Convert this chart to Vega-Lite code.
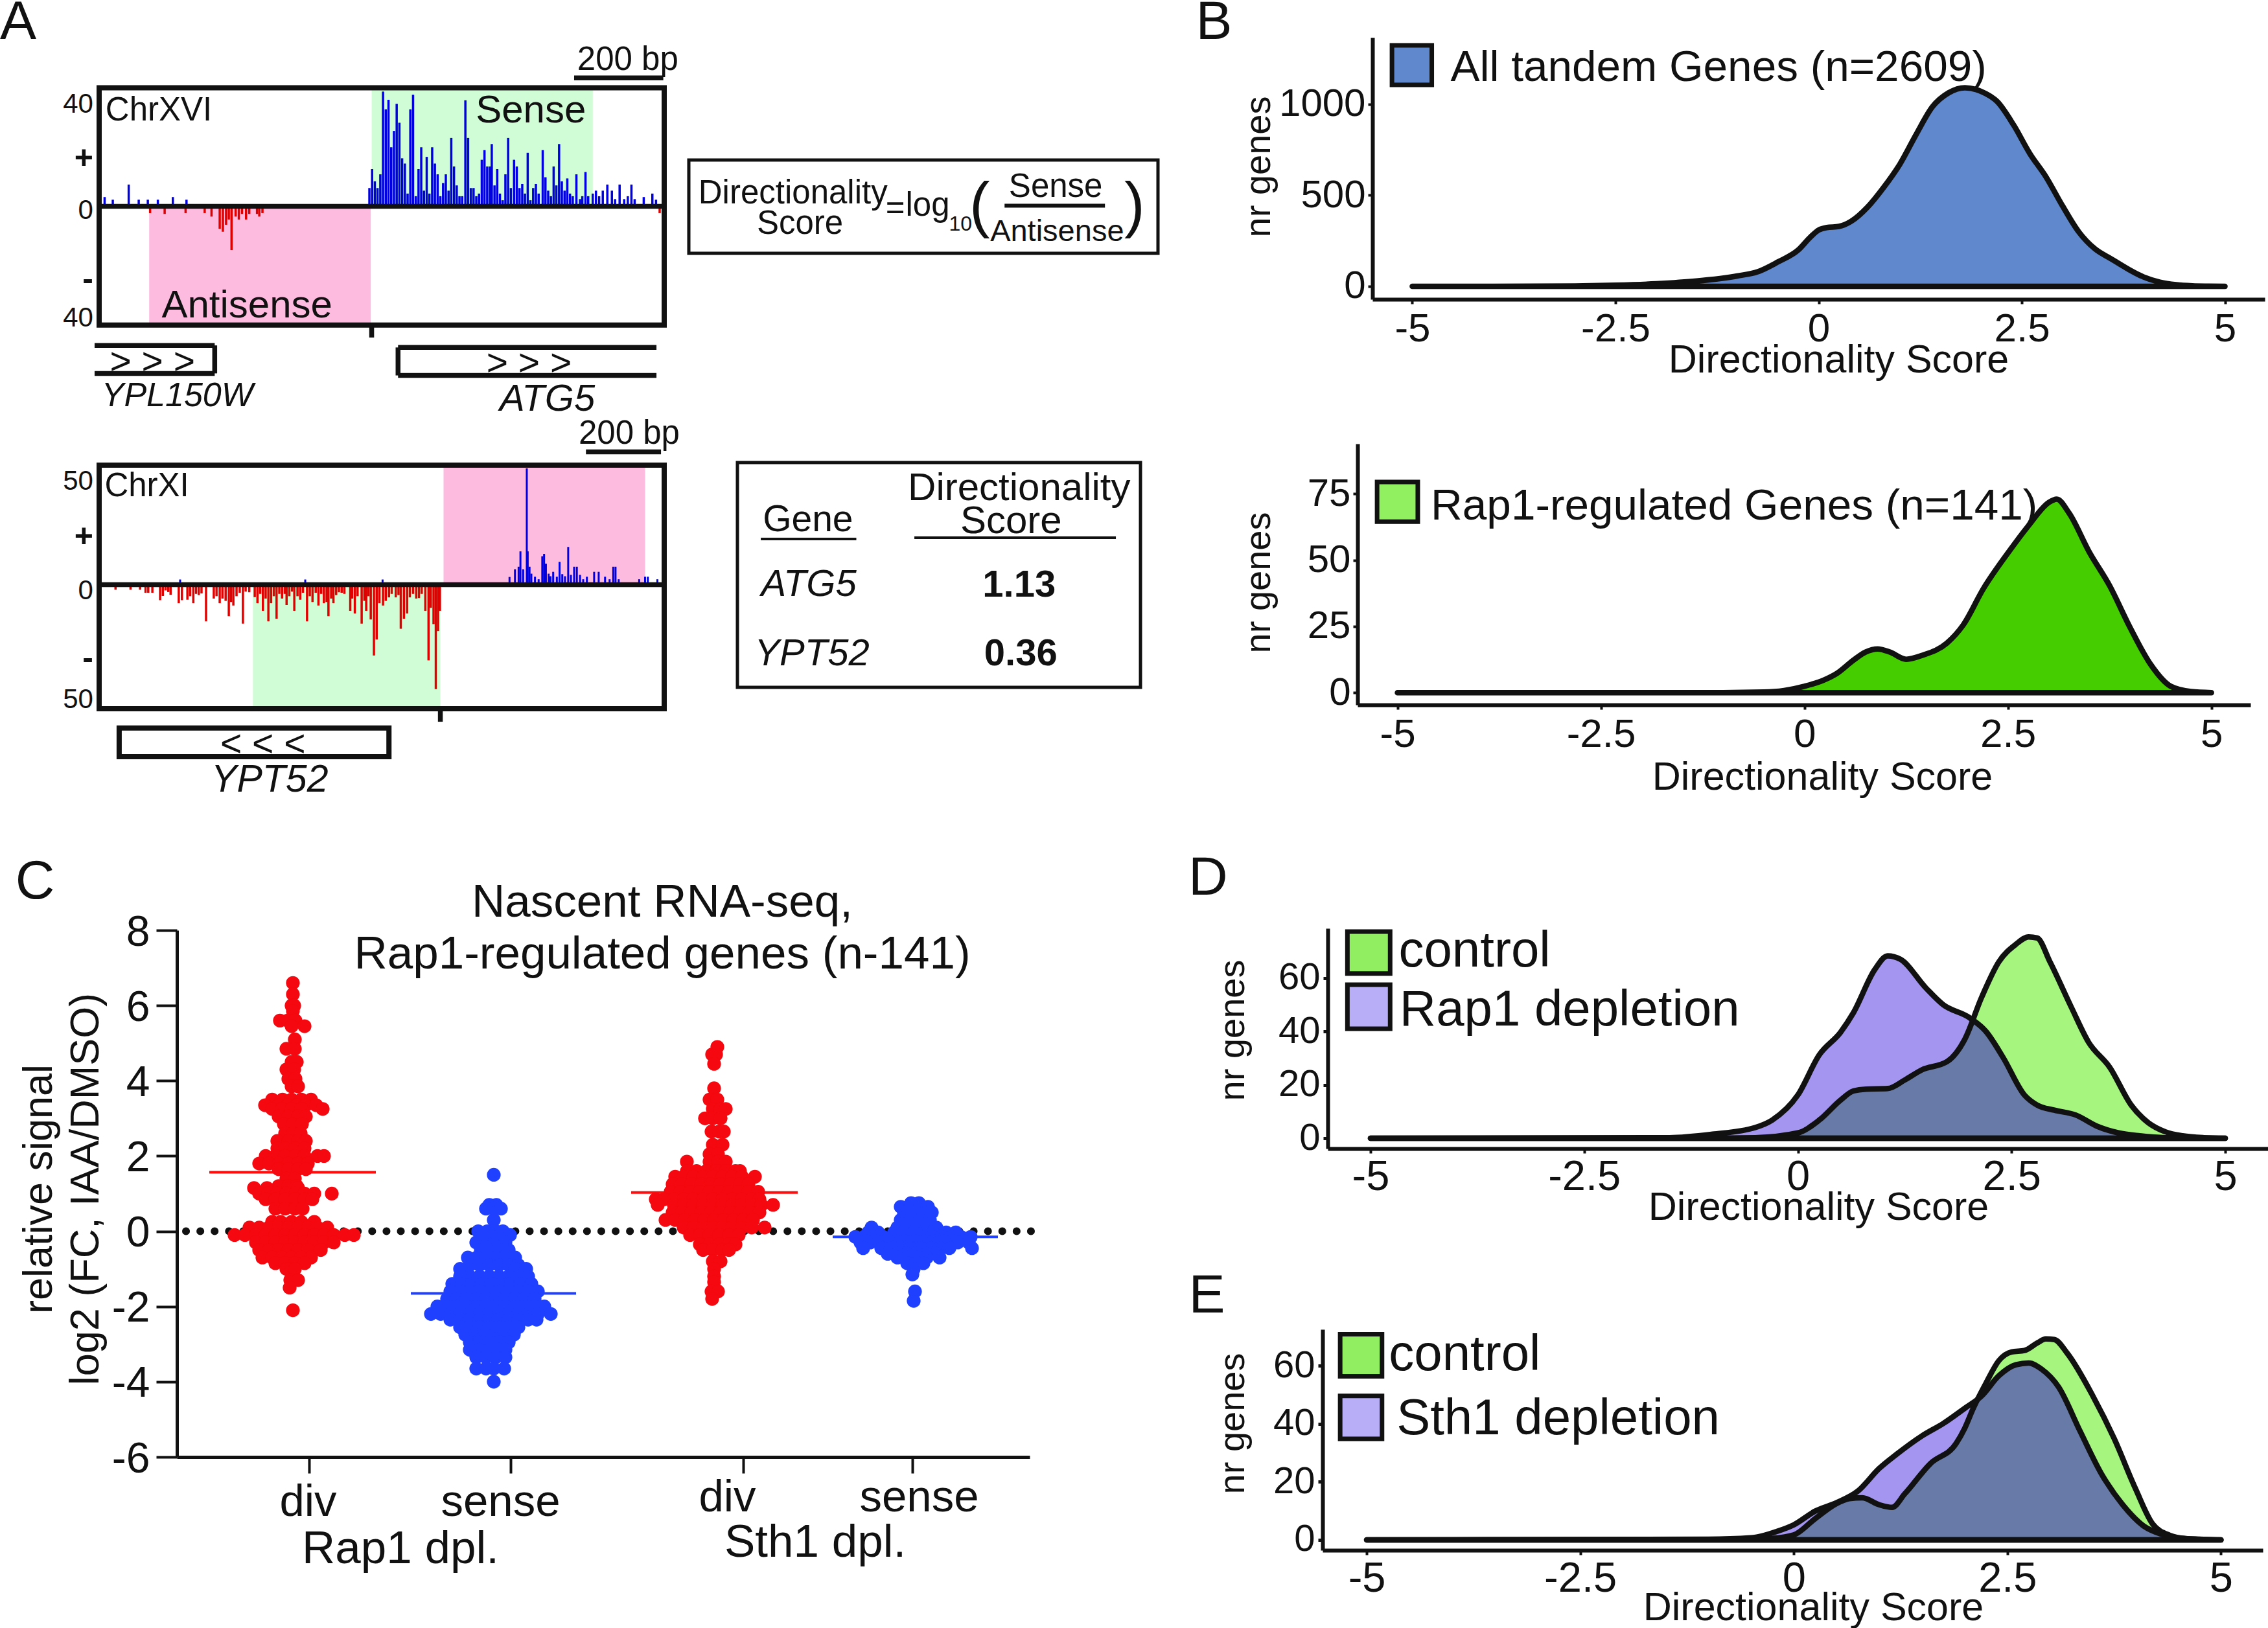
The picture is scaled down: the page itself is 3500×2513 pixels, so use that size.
{"$schema":"https://vega.github.io/schema/vega-lite/v6.json","width":3500,"height":2513,"autosize":{"type":"none"},"padding":0,"background":"white",
"config":{"view":{"stroke":null},"text":{"font":"Liberation Sans","color":"#111","baseline":"middle","dy":3},"axis":{"grid":false,"domainColor":"#111","tickColor":"#111","labelColor":"#111","titleColor":"#111","labelFont":"Liberation Sans","titleFont":"Liberation Sans","titleFontWeight":"normal","labelOverlap":false,"labelBound":false,"labelFlush":false,"labelLimit":0,"titleLimit":0,"titleAlign":"center","titleBaseline":"middle"}},
"resolve":{"scale":{"x":"independent","y":"independent"}},
"layer":[
{"encoding":{"x":{"field":"x","type":"quantitative","scale":{"domain":[0,1242],"range":[153,1025],"nice":false,"zero":false},"axis":null},"y":{"field":"y","type":"quantitative","scale":{"domain":[-40.7,40.7],"range":[501.7,135.5],"nice":false,"zero":false},"axis":null}},
"layer":[
{"data":{"values":[{"x":599,"x2":1085,"y":0,"y2":40.7}]},"mark":{"type":"rect","fill":"#d0fdd5"},"encoding":{"x2":{"field":"x2"},"y2":{"field":"y2"}}},
{"data":{"values":[{"x":110,"x2":597,"y":-40.7,"y2":0}]},"mark":{"type":"rect","fill":"#febbe0"},"encoding":{"x2":{"field":"x2"},"y2":{"field":"y2"}}},
{"data":{"values":[{"x":12,"y":3.2},{"x":30,"y":2.3},{"x":65,"y":7.5},{"x":87,"y":2.3},{"x":107,"y":2.3},{"x":129,"y":2.3},{"x":162,"y":3.2},{"x":192,"y":2.3},{"x":594,"y":6.3},{"x":600,"y":12.8},{"x":606,"y":8.6},{"x":612,"y":6.3},{"x":618,"y":11},{"x":624,"y":39.4},{"x":630,"y":33.3},{"x":636,"y":36.6},{"x":642,"y":20.3},{"x":648,"y":25.9},{"x":654,"y":35.2},{"x":660,"y":28.7},{"x":666,"y":16.5},{"x":672,"y":14.7},{"x":678,"y":4.4},{"x":684,"y":33.3},{"x":690,"y":38.3},{"x":696,"y":3.5},{"x":702,"y":12.8},{"x":708,"y":20.3},{"x":714,"y":5.4},{"x":720,"y":17},{"x":726,"y":4.4},{"x":732,"y":20.3},{"x":738,"y":14.7},{"x":744,"y":11},{"x":750,"y":3.5},{"x":756,"y":8},{"x":762,"y":11},{"x":768,"y":5.4},{"x":774,"y":23.5},{"x":780,"y":13.7},{"x":786,"y":7.2},{"x":792,"y":3.5},{"x":798,"y":3.5},{"x":805,"y":36.4},{"x":811,"y":23.5},{"x":817,"y":6.3},{"x":823,"y":6.3},{"x":829,"y":3.5},{"x":835,"y":4.4},{"x":841,"y":16},{"x":847,"y":19.3},{"x":853,"y":13.7},{"x":859,"y":13.7},{"x":863,"y":21.4},{"x":869,"y":7.2},{"x":875,"y":12.8},{"x":881,"y":4.4},{"x":887,"y":2.1},{"x":893,"y":11},{"x":899,"y":23.5},{"x":905,"y":6.3},{"x":912,"y":16},{"x":918,"y":13.7},{"x":924,"y":6.3},{"x":930,"y":7.7},{"x":936,"y":4.4},{"x":942,"y":18.4},{"x":948,"y":2.1},{"x":954,"y":6.3},{"x":960,"y":7.7},{"x":966,"y":4.4},{"x":975,"y":19.3},{"x":981,"y":10},{"x":987,"y":5.4},{"x":993,"y":3.5},{"x":999,"y":13.7},{"x":1005,"y":7.2},{"x":1011,"y":21.4},{"x":1017,"y":8.6},{"x":1023,"y":5.4},{"x":1029,"y":9.6},{"x":1035,"y":4.4},{"x":1041,"y":3.5},{"x":1049,"y":11},{"x":1057,"y":2.5},{"x":1062,"y":3.5},{"x":1069,"y":11.8},{"x":1075,"y":3.5},{"x":1085,"y":4.4},{"x":1092,"y":5.4},{"x":1099,"y":3.5},{"x":1107,"y":5.4},{"x":1117,"y":7.5},{"x":1127,"y":5.4},{"x":1134,"y":2.5},{"x":1144,"y":7.5},{"x":1154,"y":2.5},{"x":1162,"y":3.5},{"x":1170,"y":7.5},{"x":1177,"y":2.5},{"x":1197,"y":3.2},{"x":1216,"y":4.4},{"x":1224,"y":2.3}]},"mark":{"type":"rule","color":"#0000e0","strokeWidth":3.5},"encoding":{"y2":{"datum":0}}},
{"data":{"values":[{"x":112,"y":-2.3},{"x":144,"y":-2.6},{"x":190,"y":-2.3},{"x":232,"y":-2.3},{"x":247,"y":-3.5},{"x":265,"y":-7.7},{"x":272,"y":-8.7},{"x":279,"y":-6.3},{"x":285,"y":-4.5},{"x":291,"y":-15},{"x":300,"y":-3.5},{"x":307,"y":-4.5},{"x":314,"y":-2.6},{"x":323,"y":-4.5},{"x":330,"y":-2.6},{"x":347,"y":-2.6},{"x":352,"y":-3.5},{"x":359,"y":-2.3},{"x":1232,"y":-2.3}]},"mark":{"type":"rule","color":"#e00000","strokeWidth":3.5},"encoding":{"y2":{"datum":0}}},
{"data":{"values":[{"x":0,"x2":1242,"y":0,"y2":0},{"x":599,"x2":599,"y":-40.7,"y2":-45},{"x":1044,"x2":1240,"y":44.1,"y2":44.1},{"x":-10,"x2":254,"y":-47.7,"y2":-47.7},{"x":-10,"x2":254,"y":-57.3,"y2":-57.3},{"x":254,"x2":254,"y":-47.7,"y2":-57.3},{"x":657,"x2":1225,"y":-48.4,"y2":-48.4},{"x":657,"x2":1225,"y":-58,"y2":-58},{"x":657,"x2":657,"y":-48.4,"y2":-58}]},"mark":{"type":"rule","color":"#111","strokeWidth":7.5},"encoding":{"x2":{"field":"x2"},"y2":{"field":"y2"}}},
{"data":{"values":[{"x":0,"x2":1242,"y":-40.7,"y2":40.7}]},"mark":{"type":"rect","fill":"transparent","stroke":"#111","strokeWidth":8},"encoding":{"x2":{"field":"x2"},"y2":{"field":"y2"}}},
{"data":{"values":[{"t":"40","x":-13,"y":35.7},{"t":"0","x":-13,"y":-0.7},{"t":"40","x":-13,"y":-37.7}]},"mark":{"type":"text","fontSize":42,"align":"right"},"encoding":{"text":{"field":"t","type":"nominal"}}},
{"data":{"values":[{"t":"+","x":-13,"y":17},{"t":"-","x":-13,"y":-24.6}]},"mark":{"type":"text","fontSize":50,"fontWeight":"bold","align":"right"},"encoding":{"text":{"field":"t","type":"nominal"}}},
{"data":{"values":[{"t":"ChrXVI","x":14,"y":33.5}]},"mark":{"type":"text","fontSize":51,"align":"left"},"encoding":{"text":{"field":"t","type":"nominal"}}},
{"data":{"values":[{"t":"200 bp","x":1162,"y":50.8}]},"mark":{"type":"text","fontSize":51},"encoding":{"text":{"field":"t","type":"nominal"}}},
{"data":{"values":[{"t":"Sense","x":949,"y":33.4},{"t":"Antisense","x":325,"y":-33.5}]},"mark":{"type":"text","fontSize":60},"encoding":{"text":{"field":"t","type":"nominal"}}},
{"data":{"values":[{"t":"> > >","x":117,"y":-53},{"t":"> > >","x":945,"y":-53.4}]},"mark":{"type":"text","fontSize":57},"encoding":{"text":{"field":"t","type":"nominal"}}},
{"data":{"values":[{"t":"YPL150W","x":172,"y":-64.3}]},"mark":{"type":"text","fontSize":52,"fontStyle":"italic"},"encoding":{"text":{"field":"t","type":"nominal"}}},
{"data":{"values":[{"t":"ATG5","x":985,"y":-65.7}]},"mark":{"type":"text","fontSize":58,"fontStyle":"italic"},"encoding":{"text":{"field":"t","type":"nominal"}}},
{"data":{"values":[{"t":"A","x":-178,"y":63.7}]},"mark":{"type":"text","fontSize":84},"encoding":{"text":{"field":"t","type":"nominal"}}}
]},
{"encoding":{"x":{"field":"x","type":"quantitative","scale":{"domain":[0,1242],"range":[153,1025],"nice":false,"zero":false},"axis":null},"y":{"field":"y","type":"quantitative","scale":{"domain":[-53.4,51.4],"range":[1094,718],"nice":false,"zero":false},"axis":null}},
"layer":[
{"data":{"values":[{"x":338,"x2":750,"y":-53.4,"y2":0}]},"mark":{"type":"rect","fill":"#d0fdd5"},"encoding":{"x2":{"field":"x2"},"y2":{"field":"y2"}}},
{"data":{"values":[{"x":757,"x2":1200,"y":0,"y2":51.4}]},"mark":{"type":"rect","fill":"#febbe0"},"encoding":{"x2":{"field":"x2"},"y2":{"field":"y2"}}},
{"data":{"values":[{"x":178,"y":2.2},{"x":453,"y":2.2},{"x":623,"y":2.2},{"x":902,"y":3.3},{"x":914,"y":6.6},{"x":922,"y":7.7},{"x":926,"y":14.3},{"x":932,"y":6.6},{"x":940,"y":50},{"x":942,"y":14.3},{"x":946,"y":7.7},{"x":950,"y":4.7},{"x":958,"y":3.4},{"x":966,"y":2.3},{"x":974,"y":12.2},{"x":978,"y":13.2},{"x":982,"y":9},{"x":988,"y":4.7},{"x":992,"y":3.6},{"x":998,"y":5.5},{"x":1006,"y":3.4},{"x":1012,"y":9.8},{"x":1018,"y":4.5},{"x":1024,"y":3.6},{"x":1031,"y":16.2},{"x":1037,"y":4.2},{"x":1044,"y":7.7},{"x":1050,"y":7.7},{"x":1057,"y":4.2},{"x":1064,"y":2.3},{"x":1072,"y":3.4},{"x":1088,"y":5.5},{"x":1098,"y":5.5},{"x":1112,"y":3.4},{"x":1122,"y":2.3},{"x":1130,"y":7.7},{"x":1135,"y":7.7},{"x":1142,"y":2.3},{"x":1187,"y":2.3},{"x":1200,"y":3.4},{"x":1206,"y":3.4},{"x":1227,"y":2.3}]},"mark":{"type":"rule","color":"#0000e0","strokeWidth":3},"encoding":{"y2":{"datum":0}}},
{"data":{"values":[{"x":36,"y":-2.2},{"x":69,"y":-2.2},{"x":90,"y":-2.2},{"x":102,"y":-3.5},{"x":108,"y":-3.5},{"x":117,"y":-3.5},{"x":134,"y":-6.7},{"x":140,"y":-4.9},{"x":146,"y":-2.5},{"x":152,"y":-3.2},{"x":157,"y":-4.4},{"x":175,"y":-8},{"x":182,"y":-6.7},{"x":194,"y":-6.5},{"x":200,"y":-5},{"x":207,"y":-8},{"x":213,"y":-4},{"x":219,"y":-4.5},{"x":225,"y":-3.8},{"x":235,"y":-15.8},{"x":252,"y":-6},{"x":258,"y":-5},{"x":265,"y":-8},{"x":271,"y":-6},{"x":278,"y":-7},{"x":285,"y":-13.6},{"x":290,"y":-7.5},{"x":295,"y":-9},{"x":302,"y":-5},{"x":309,"y":-3.5},{"x":316,"y":-16.8},{"x":322,"y":-3},{"x":330,"y":-3.3},{"x":342,"y":-5.4},{"x":348,"y":-8},{"x":354,"y":-4},{"x":360,"y":-11.3},{"x":366,"y":-6},{"x":372,"y":-15.8},{"x":378,"y":-8},{"x":384,"y":-5},{"x":390,"y":-14.7},{"x":396,"y":-4},{"x":402,"y":-6},{"x":408,"y":-4},{"x":412,"y":-8.8},{"x":418,"y":-5},{"x":424,"y":-3},{"x":429,"y":-11.3},{"x":436,"y":-5},{"x":442,"y":-6.5},{"x":448,"y":-3.5},{"x":457,"y":-15.8},{"x":463,"y":-5},{"x":469,"y":-7.5},{"x":476,"y":-3.5},{"x":482,"y":-9},{"x":488,"y":-4},{"x":494,"y":-8},{"x":500,"y":-7.5},{"x":504,"y":-13.6},{"x":510,"y":-6},{"x":515,"y":-8},{"x":521,"y":-4.5},{"x":527,"y":-3.3},{"x":533,"y":-3.5},{"x":539,"y":-4},{"x":552,"y":-11.3},{"x":556,"y":-6},{"x":562,"y":-12.4},{"x":568,"y":-5},{"x":577,"y":-16.8},{"x":583,"y":-7},{"x":587,"y":-11.3},{"x":592,"y":-5},{"x":597,"y":-15},{"x":604,"y":-30.5},{"x":610,"y":-23.6},{"x":616,"y":-8},{"x":624,"y":-9},{"x":630,"y":-7},{"x":637,"y":-5.5},{"x":643,"y":-4},{"x":652,"y":-5.5},{"x":658,"y":-4.5},{"x":663,"y":-19},{"x":670,"y":-14.7},{"x":677,"y":-12.4},{"x":683,"y":-5.5},{"x":690,"y":-4},{"x":697,"y":-6},{"x":703,"y":-5.8},{"x":709,"y":-4},{"x":717,"y":-11.3},{"x":724,"y":-32.6},{"x":729,"y":-10},{"x":735,"y":-17},{"x":740,"y":-45},{"x":745,"y":-20},{"x":749,"y":-11.3}]},"mark":{"type":"rule","color":"#e00000","strokeWidth":3.5},"encoding":{"y2":{"datum":0}}},
{"data":{"values":[{"x":0,"x2":1242,"y":0,"y2":0},{"x":750,"x2":750,"y":-53.4,"y2":-59},{"x":1070,"x2":1235,"y":57.1,"y2":57.1}]},"mark":{"type":"rule","color":"#111","strokeWidth":7.5},"encoding":{"x2":{"field":"x2"},"y2":{"field":"y2"}}},
{"data":{"values":[{"x":0,"x2":1242,"y":-53.4,"y2":51.4},{"x":44,"x2":637,"y":-74,"y2":-61.7}]},"mark":{"type":"rect","fill":"transparent","stroke":"#111","strokeWidth":8},"encoding":{"x2":{"field":"x2"},"y2":{"field":"y2"}}},
{"data":{"values":[{"t":"50","x":-13,"y":45.4},{"t":"0","x":-13,"y":-1.7},{"t":"50","x":-13,"y":-48.6}]},"mark":{"type":"text","fontSize":42,"align":"right"},"encoding":{"text":{"field":"t","type":"nominal"}}},
{"data":{"values":[{"t":"+","x":-13,"y":21.2},{"t":"-","x":-13,"y":-31}]},"mark":{"type":"text","fontSize":50,"fontWeight":"bold","align":"right"},"encoding":{"text":{"field":"t","type":"nominal"}}},
{"data":{"values":[{"t":"ChrXI","x":12,"y":42.9}]},"mark":{"type":"text","fontSize":51,"align":"left"},"encoding":{"text":{"field":"t","type":"nominal"}}},
{"data":{"values":[{"t":"200 bp","x":1165,"y":65.6}]},"mark":{"type":"text","fontSize":51},"encoding":{"text":{"field":"t","type":"nominal"}}},
{"data":{"values":[{"t":"< < <","x":360,"y":-68.3}]},"mark":{"type":"text","fontSize":57},"encoding":{"text":{"field":"t","type":"nominal"}}},
{"data":{"values":[{"t":"YPT52","x":375,"y":-83.3}]},"mark":{"type":"text","fontSize":59,"fontStyle":"italic"},"encoding":{"text":{"field":"t","type":"nominal"}}}
]},
{"encoding":{"x":{"field":"x","type":"quantitative","scale":{"domain":[0,100],"range":[1063,1787],"nice":false,"zero":false},"axis":null},"y":{"field":"y","type":"quantitative","scale":{"domain":[0,100],"range":[391,247],"nice":false,"zero":false},"axis":null}},
"layer":[
{"data":{"values":[{"x":0,"x2":100,"y":0,"y2":100}]},"mark":{"type":"rect","fill":"transparent","stroke":"#111","strokeWidth":5},"encoding":{"x2":{"field":"x2"},"y2":{"field":"y2"}}},
{"data":{"values":[{"x":67.3,"x2":88.7,"y":51}]},"mark":{"type":"rule","color":"#111","strokeWidth":6},"encoding":{"x2":{"field":"x2"}}},
{"data":{"values":[{"t":"Directionality","x":22.2,"y":65.7},{"t":"Score","x":23.7,"y":33},{"t":"=","x":44,"y":49},{"t":"log","x":50.9,"y":53},{"t":"Sense","x":78.2,"y":73}]},"mark":{"type":"text","fontSize":51},"encoding":{"text":{"field":"t","type":"nominal"}}},
{"data":{"values":[{"t":"Antisense","x":78.5,"y":25}]},"mark":{"type":"text","fontSize":47},"encoding":{"text":{"field":"t","type":"nominal"}}},
{"data":{"values":[{"t":"10","x":57.9,"y":33}]},"mark":{"type":"text","fontSize":32},"encoding":{"text":{"field":"t","type":"nominal"}}},
{"data":{"values":[{"t":"(","x":62,"y":52},{"t":")","x":95,"y":52}]},"mark":{"type":"text","fontSize":95},"encoding":{"text":{"field":"t","type":"nominal"}}}
]},
{"encoding":{"x":{"field":"x","type":"quantitative","scale":{"domain":[0,100],"range":[1138,1760],"nice":false,"zero":false},"axis":null},"y":{"field":"y","type":"quantitative","scale":{"domain":[0,100],"range":[1061,714],"nice":false,"zero":false},"axis":null}},
"layer":[
{"data":{"values":[{"x":0,"x2":100,"y":0,"y2":100}]},"mark":{"type":"rect","fill":"transparent","stroke":"#111","strokeWidth":5},"encoding":{"x2":{"field":"x2"},"y2":{"field":"y2"}}},
{"data":{"values":[{"x":5.8,"x2":29.5,"y":66},{"x":43.9,"x2":93.9,"y":66.6}]},"mark":{"type":"rule","color":"#111","strokeWidth":4},"encoding":{"x2":{"field":"x2"}}},
{"data":{"values":[{"t":"Gene","x":17.5,"y":75.2}]},"mark":{"type":"text","fontSize":57},"encoding":{"text":{"field":"t","type":"nominal"}}},
{"data":{"values":[{"t":"Directionality","x":69.9,"y":89.3},{"t":"Score","x":67.9,"y":74.7}]},"mark":{"type":"text","fontSize":60},"encoding":{"text":{"field":"t","type":"nominal"}}},
{"data":{"values":[{"t":"ATG5","x":17.7,"y":46.3},{"t":"YPT52","x":18.5,"y":15.7}]},"mark":{"type":"text","fontSize":58,"fontStyle":"italic"},"encoding":{"text":{"field":"t","type":"nominal"}}},
{"data":{"values":[{"t":"1.13","x":69.9,"y":46},{"t":"0.36","x":70.3,"y":15.7}]},"mark":{"type":"text","fontSize":58,"fontWeight":"bold"},"encoding":{"text":{"field":"t","type":"nominal"}}}
]},
{"encoding":{"x":{"field":"x","type":"quantitative","scale":{"domain":[-5.49,5.49],"range":[2118,3495],"nice":false,"zero":false},"axis":{"orient":"bottom","offset":-2051,"values":[-5,-2.5,0,2.5,5],"labelExpr":"''+datum.value","domainWidth":6,"tickWidth":4,"tickSize":7,"labelFontSize":62,"labelPadding":8,"title":"Directionality Score","titleFontSize":61,"titleX":2837,"titleY":94}},"y":{"field":"y","type":"quantitative","scale":{"domain":[-71.2,1366.5],"range":[462,58],"nice":false,"zero":false},"axis":{"orient":"left","offset":-2118,"values":[0,500,1000],"labelExpr":"''+datum.value","domainWidth":6,"tickWidth":4,"tickSize":7,"labelFontSize":60,"labelPadding":4,"title":"nr genes","titleFontSize":56,"titleX":-176,"titleY":257}}},
"layer":[
{"data":{"values":[{"x":-5,"y":0},{"x":-4,"y":0},{"x":-3,"y":2},{"x":-2.5,"y":6},{"x":-2,"y":14},{"x":-1.5,"y":29},{"x":-1,"y":57},{"x":-0.75,"y":80},{"x":-0.5,"y":134},{"x":-0.25,"y":200},{"x":-0.1,"y":271},{"x":0,"y":309},{"x":0.1,"y":323},{"x":0.25,"y":329},{"x":0.4,"y":357},{"x":0.6,"y":434},{"x":0.8,"y":543},{"x":1,"y":671},{"x":1.2,"y":834},{"x":1.4,"y":986},{"x":1.6,"y":1063},{"x":1.8,"y":1091},{"x":2,"y":1071},{"x":2.2,"y":1014},{"x":2.4,"y":886},{"x":2.6,"y":729},{"x":2.8,"y":600},{"x":3,"y":443},{"x":3.2,"y":300},{"x":3.4,"y":206},{"x":3.6,"y":151},{"x":3.8,"y":97},{"x":4,"y":51},{"x":4.2,"y":23},{"x":4.4,"y":9},{"x":4.6,"y":3},{"x":4.8,"y":1},{"x":5,"y":0}]},"mark":{"type":"area","interpolate":"monotone","fill":"#6088cc","stroke":"#111","strokeWidth":8.5,"strokeJoin":"round","strokeCap":"round"}},
{"data":{"values":[{"x":-5.25,"x2":-4.76,"y":1107,"y2":1324}]},"mark":{"type":"rect","fill":"#6088cc","stroke":"#111","strokeWidth":7},"encoding":{"x2":{"field":"x2"},"y2":{"field":"y2"}}},
{"data":{"values":[{"t":"All tandem Genes (n=2609)","x":-4.53,"y":1210}]},"mark":{"type":"text","fontSize":67.5,"align":"left"},"encoding":{"text":{"field":"t","type":"nominal"}}},
{"data":{"values":[{"t":"B","x":-7.44,"y":1459}]},"mark":{"type":"text","fontSize":84},"encoding":{"text":{"field":"t","type":"nominal"}}}
]},
{"encoding":{"x":{"field":"x","type":"quantitative","scale":{"domain":[-5.49,5.48],"range":[2095,3473],"nice":false,"zero":false},"axis":{"orient":"bottom","offset":-1425,"values":[-5,-2.5,0,2.5,5],"labelExpr":"''+datum.value","domainWidth":6,"tickWidth":4,"tickSize":7,"labelFontSize":62,"labelPadding":8,"title":"Directionality Score","titleFontSize":61,"titleX":2812,"titleY":112}},"y":{"field":"y","type":"quantitative","scale":{"domain":[-4.6,93.9],"range":[1088,685],"nice":false,"zero":false},"axis":{"orient":"left","offset":-2095,"values":[0,25,50,75],"labelExpr":"''+datum.value","domainWidth":6,"tickWidth":4,"tickSize":7,"labelFontSize":60,"labelPadding":4,"title":"nr genes","titleFontSize":56,"titleX":-153,"titleY":899}}},
"layer":[
{"data":{"values":[{"x":-5,"y":0},{"x":-1,"y":0},{"x":-0.5,"y":0.2},{"x":-0.25,"y":0.8},{"x":0,"y":2.4},{"x":0.25,"y":4.9},{"x":0.4,"y":7.3},{"x":0.6,"y":12.2},{"x":0.75,"y":15.3},{"x":0.9,"y":16.5},{"x":1.05,"y":15.3},{"x":1.25,"y":12.6},{"x":1.45,"y":14.1},{"x":1.75,"y":18.7},{"x":1.95,"y":25.5},{"x":2.2,"y":39.3},{"x":2.5,"y":52.7},{"x":2.75,"y":62.9},{"x":3,"y":71.7},{"x":3.1,"y":73},{"x":3.25,"y":67.8},{"x":3.5,"y":53},{"x":3.75,"y":40.3},{"x":4,"y":24.6},{"x":4.25,"y":10.8},{"x":4.5,"y":2.4},{"x":4.75,"y":0.4},{"x":5,"y":0}]},"mark":{"type":"area","interpolate":"monotone","fill":"#46cd00","stroke":"#111","strokeWidth":8.5,"strokeJoin":"round","strokeCap":"round"}},
{"data":{"values":[{"x":-5.25,"x2":-4.75,"y":64.5,"y2":79.5}]},"mark":{"type":"rect","fill":"#90f060","stroke":"#111","strokeWidth":7},"encoding":{"x2":{"field":"x2"},"y2":{"field":"y2"}}},
{"data":{"values":[{"t":"Rap1-regulated Genes (n=141)","x":-4.59,"y":71}]},"mark":{"type":"text","fontSize":67.5,"align":"left"},"encoding":{"text":{"field":"t","type":"nominal"}}}
]},
{"encoding":{"x":{"field":"x","type":"quantitative","scale":{"domain":[2.73,15.89],"range":[273,1589],"nice":false,"zero":false},"axis":{"orient":"bottom","offset":-264,"values":[4.77,7.88,11.47,14.08],"labelExpr":"datum.value<5||(datum.value>11&&datum.value<12)?'div':'sense'","domainWidth":5,"tickWidth":4,"tickSize":25,"labelFontSize":69,"labelPadding":{"condition":{"test":"datum.value<9","value":10},"value":3},"labelOffset":{"condition":[{"test":"datum.value<5","value":-2},{"test":"datum.value<9","value":-16},{"test":"datum.value<12","value":-25}],"value":10},"title":null}},"y":{"field":"y","type":"quantitative","scale":{"domain":[-6,8],"range":[2249,1436],"nice":false,"zero":false},"axis":{"orient":"left","offset":-273,"values":[-6,-4,-2,0,2,4,6,8],"labelExpr":"''+datum.value","domainWidth":5,"tickWidth":4,"tickSize":32,"labelFontSize":66,"labelPadding":10,"labelOffset":3,"title":["relative signal","log2 (FC, IAA/DMSO)"],"titleFontSize":63,"titleLineHeight":72,"titleX":-213,"titleY":1835}}},
"layer":[
{"data":{"values":[{"x":2.87,"x2":16.05,"y":0}]},"mark":{"type":"rule","color":"#111","strokeWidth":12,"strokeCap":"round","strokeDash":[0.1,22]},"encoding":{"x2":{"field":"x2"}}},
{"data":{"values":[{"x":3.23,"x2":5.8,"y":1.57},{"x":9.74,"x2":12.31,"y":1.03}]},"mark":{"type":"rule","color":"#ff0d0d","strokeWidth":4},"encoding":{"x2":{"field":"x2"}}},
{"data":{"values":[{"x":6.34,"x2":8.89,"y":-1.65},{"x":12.85,"x2":15.4,"y":-0.15}]},"mark":{"type":"rule","color":"#2040ff","strokeWidth":4},"encoding":{"x2":{"field":"x2"}}},
{"data":{"values":[{"x":4.52,"y":6.6},{"x":4.52,"y":6.3},{"x":4.5,"y":6},{"x":4.54,"y":6},{"x":4.52,"y":5.85},{"x":4.32,"y":5.6},{"x":4.44,"y":5.6},{"x":4.56,"y":5.6},{"x":4.5,"y":5.45},{"x":4.7,"y":5.45},{"x":4.55,"y":5.1},{"x":4.42,"y":4.85},{"x":4.55,"y":4.85},{"x":4.5,"y":4.5},{"x":4.58,"y":4.5},{"x":4.42,"y":4.3},{"x":4.54,"y":4.3},{"x":4.45,"y":4.05},{"x":4.56,"y":4.05},{"x":4.5,"y":3.85},{"x":4.6,"y":3.85},{"x":4.2,"y":3.5},{"x":4.36,"y":3.5},{"x":4.5,"y":3.5},{"x":4.65,"y":3.5},{"x":4.8,"y":3.5},{"x":4.09,"y":3.35},{"x":4.3,"y":3.35},{"x":4.44,"y":3.35},{"x":4.58,"y":3.35},{"x":4.72,"y":3.35},{"x":4.88,"y":3.35},{"x":4.2,"y":3.25},{"x":4.35,"y":3.25},{"x":4.5,"y":3.25},{"x":4.65,"y":3.25},{"x":4.98,"y":3.25},{"x":4.3,"y":3.05},{"x":4.45,"y":3.05},{"x":4.6,"y":3.05},{"x":4.72,"y":3.05},{"x":4.38,"y":2.85},{"x":4.52,"y":2.85},{"x":4.66,"y":2.85},{"x":4.4,"y":2.6},{"x":4.52,"y":2.6},{"x":4.64,"y":2.6},{"x":4.28,"y":2.4},{"x":4.45,"y":2.4},{"x":4.6,"y":2.4},{"x":4.72,"y":2.4},{"x":4.28,"y":2.2},{"x":4.4,"y":2.2},{"x":4.55,"y":2.2},{"x":4.7,"y":2.2},{"x":4.1,"y":2},{"x":4.25,"y":2},{"x":4.4,"y":2},{"x":4.55,"y":2},{"x":4.7,"y":2},{"x":4.9,"y":2},{"x":5,"y":2},{"x":4,"y":1.8},{"x":4.15,"y":1.8},{"x":4.3,"y":1.8},{"x":4.45,"y":1.8},{"x":4.6,"y":1.8},{"x":4.75,"y":1.8},{"x":4.3,"y":1.65},{"x":4.45,"y":1.65},{"x":4.6,"y":1.65},{"x":4.72,"y":1.65},{"x":4.42,"y":1.4},{"x":4.55,"y":1.4},{"x":4.3,"y":1.2},{"x":4.45,"y":1.2},{"x":4.58,"y":1.2},{"x":3.92,"y":1.15},{"x":4.12,"y":1.15},{"x":4.6,"y":1.15},{"x":4,"y":1},{"x":4.14,"y":1},{"x":4.28,"y":1},{"x":4.42,"y":1},{"x":4.56,"y":1},{"x":4.7,"y":1},{"x":4.85,"y":1},{"x":5.12,"y":1},{"x":4.1,"y":0.85},{"x":4.25,"y":0.85},{"x":4.4,"y":0.85},{"x":4.55,"y":0.85},{"x":4.7,"y":0.85},{"x":4.82,"y":0.85},{"x":4.25,"y":0.6},{"x":4.4,"y":0.6},{"x":4.55,"y":0.6},{"x":4.67,"y":0.6},{"x":4.2,"y":0.25},{"x":4.33,"y":0.25},{"x":4.5,"y":0.25},{"x":4.65,"y":0.25},{"x":4.85,"y":0.25},{"x":3.85,"y":0.1},{"x":4,"y":0.1},{"x":4.15,"y":0.1},{"x":4.3,"y":0.1},{"x":4.45,"y":0.1},{"x":4.6,"y":0.1},{"x":4.75,"y":0.1},{"x":4.9,"y":0.1},{"x":5.05,"y":0.1},{"x":3.62,"y":-0.1},{"x":3.78,"y":-0.1},{"x":3.95,"y":-0.1},{"x":4.1,"y":-0.1},{"x":4.25,"y":-0.1},{"x":4.4,"y":-0.1},{"x":4.55,"y":-0.1},{"x":4.7,"y":-0.1},{"x":4.85,"y":-0.1},{"x":5,"y":-0.1},{"x":5.15,"y":-0.1},{"x":5.32,"y":-0.1},{"x":5.46,"y":-0.1},{"x":3.95,"y":-0.3},{"x":4.1,"y":-0.3},{"x":4.25,"y":-0.3},{"x":4.4,"y":-0.3},{"x":4.55,"y":-0.3},{"x":4.7,"y":-0.3},{"x":4.85,"y":-0.3},{"x":5,"y":-0.3},{"x":5.15,"y":-0.3},{"x":4,"y":-0.5},{"x":4.15,"y":-0.5},{"x":4.3,"y":-0.5},{"x":4.45,"y":-0.5},{"x":4.6,"y":-0.5},{"x":4.75,"y":-0.5},{"x":4.95,"y":-0.5},{"x":4.05,"y":-0.7},{"x":4.2,"y":-0.7},{"x":4.35,"y":-0.7},{"x":4.5,"y":-0.7},{"x":4.65,"y":-0.7},{"x":4.8,"y":-0.7},{"x":4.25,"y":-0.85},{"x":4.4,"y":-0.85},{"x":4.55,"y":-0.85},{"x":4.7,"y":-0.85},{"x":4.42,"y":-1},{"x":4.55,"y":-1},{"x":4.48,"y":-1.3},{"x":4.6,"y":-1.3},{"x":4.47,"y":-1.5},{"x":4.52,"y":-2.1},{"x":11.07,"y":4.9},{"x":10.99,"y":4.7},{"x":11.05,"y":4.7},{"x":11.02,"y":4.45},{"x":11.02,"y":3.8},{"x":10.95,"y":3.5},{"x":11.07,"y":3.5},{"x":11,"y":3.25},{"x":11.12,"y":3.25},{"x":11.2,"y":3.25},{"x":10.88,"y":3},{"x":11,"y":3},{"x":11.12,"y":3},{"x":10.98,"y":2.65},{"x":11.1,"y":2.65},{"x":11.17,"y":2.65},{"x":11,"y":2.3},{"x":11.15,"y":2.3},{"x":10.95,"y":2.05},{"x":11.08,"y":2.05},{"x":10.6,"y":1.85},{"x":10.95,"y":1.85},{"x":11.08,"y":1.85},{"x":11.2,"y":1.85},{"x":10.6,"y":1.6},{"x":10.75,"y":1.6},{"x":10.9,"y":1.6},{"x":11.05,"y":1.6},{"x":11.2,"y":1.6},{"x":11.35,"y":1.6},{"x":11.42,"y":1.6},{"x":10.42,"y":1.45},{"x":10.55,"y":1.45},{"x":10.7,"y":1.45},{"x":10.85,"y":1.45},{"x":11,"y":1.45},{"x":11.15,"y":1.45},{"x":11.3,"y":1.45},{"x":11.45,"y":1.45},{"x":11.65,"y":1.45},{"x":10.38,"y":1.25},{"x":10.52,"y":1.25},{"x":10.67,"y":1.25},{"x":10.82,"y":1.25},{"x":10.97,"y":1.25},{"x":11.12,"y":1.25},{"x":11.27,"y":1.25},{"x":11.42,"y":1.25},{"x":11.55,"y":1.25},{"x":10.35,"y":1.05},{"x":10.5,"y":1.05},{"x":10.65,"y":1.05},{"x":10.8,"y":1.05},{"x":10.95,"y":1.05},{"x":11.1,"y":1.05},{"x":11.25,"y":1.05},{"x":11.4,"y":1.05},{"x":11.55,"y":1.05},{"x":11.7,"y":1.05},{"x":10.12,"y":0.85},{"x":10.25,"y":0.85},{"x":10.4,"y":0.85},{"x":10.55,"y":0.85},{"x":10.7,"y":0.85},{"x":10.85,"y":0.85},{"x":11,"y":0.85},{"x":11.15,"y":0.85},{"x":11.3,"y":0.85},{"x":11.45,"y":0.85},{"x":11.6,"y":0.85},{"x":11.72,"y":0.85},{"x":10.15,"y":0.7},{"x":10.4,"y":0.7},{"x":10.55,"y":0.7},{"x":10.7,"y":0.7},{"x":10.85,"y":0.7},{"x":11,"y":0.7},{"x":11.15,"y":0.7},{"x":11.3,"y":0.7},{"x":11.45,"y":0.7},{"x":11.6,"y":0.7},{"x":11.75,"y":0.7},{"x":11.93,"y":0.7},{"x":10.38,"y":0.5},{"x":10.52,"y":0.5},{"x":10.67,"y":0.5},{"x":10.82,"y":0.5},{"x":10.97,"y":0.5},{"x":11.12,"y":0.5},{"x":11.27,"y":0.5},{"x":11.42,"y":0.5},{"x":11.57,"y":0.5},{"x":11.72,"y":0.5},{"x":10.27,"y":0.3},{"x":10.42,"y":0.3},{"x":10.57,"y":0.3},{"x":10.72,"y":0.3},{"x":10.87,"y":0.3},{"x":11.02,"y":0.3},{"x":11.17,"y":0.3},{"x":11.32,"y":0.3},{"x":11.47,"y":0.3},{"x":11.62,"y":0.3},{"x":10.55,"y":0.1},{"x":10.7,"y":0.1},{"x":10.85,"y":0.1},{"x":11,"y":0.1},{"x":11.15,"y":0.1},{"x":11.3,"y":0.1},{"x":11.45,"y":0.1},{"x":11.6,"y":0.1},{"x":11.8,"y":0.1},{"x":10.65,"y":-0.1},{"x":10.8,"y":-0.1},{"x":10.95,"y":-0.1},{"x":11.1,"y":-0.1},{"x":11.25,"y":-0.1},{"x":11.4,"y":-0.1},{"x":10.8,"y":-0.35},{"x":10.95,"y":-0.35},{"x":11.1,"y":-0.35},{"x":11.25,"y":-0.35},{"x":11.35,"y":-0.35},{"x":10.85,"y":-0.5},{"x":11,"y":-0.5},{"x":11.15,"y":-0.5},{"x":11.25,"y":-0.5},{"x":11,"y":-0.8},{"x":11.12,"y":-0.8},{"x":11.02,"y":-1},{"x":11.02,"y":-1.2},{"x":11.02,"y":-1.35},{"x":10.98,"y":-1.6},{"x":11.08,"y":-1.6},{"x":10.99,"y":-1.8}]},"mark":{"type":"point","filled":true,"shape":"circle","color":"#f5080f","opacity":1,"size":452}},
{"data":{"values":[{"x":7.62,"y":1.5},{"x":7.55,"y":0.7},{"x":7.66,"y":0.7},{"x":7.5,"y":0.6},{"x":7.62,"y":0.6},{"x":7.73,"y":0.6},{"x":7.62,"y":0.3},{"x":7.38,"y":0},{"x":7.52,"y":0},{"x":7.65,"y":0},{"x":7.76,"y":0},{"x":7.45,"y":-0.1},{"x":7.6,"y":-0.1},{"x":7.72,"y":-0.1},{"x":7.87,"y":-0.1},{"x":7.35,"y":-0.3},{"x":7.5,"y":-0.3},{"x":7.65,"y":-0.3},{"x":7.8,"y":-0.3},{"x":7.42,"y":-0.5},{"x":7.58,"y":-0.5},{"x":7.72,"y":-0.5},{"x":7.85,"y":-0.5},{"x":7.22,"y":-0.7},{"x":7.36,"y":-0.7},{"x":7.5,"y":-0.7},{"x":7.65,"y":-0.7},{"x":7.8,"y":-0.7},{"x":7.95,"y":-0.7},{"x":7.25,"y":-0.9},{"x":7.4,"y":-0.9},{"x":7.55,"y":-0.9},{"x":7.7,"y":-0.9},{"x":7.85,"y":-0.9},{"x":8,"y":-0.9},{"x":7.1,"y":-1},{"x":7.95,"y":-1},{"x":8.12,"y":-1},{"x":7.1,"y":-1.2},{"x":7.25,"y":-1.2},{"x":7.4,"y":-1.2},{"x":7.55,"y":-1.2},{"x":7.7,"y":-1.2},{"x":7.85,"y":-1.2},{"x":8,"y":-1.2},{"x":8.15,"y":-1.2},{"x":6.98,"y":-1.4},{"x":7.13,"y":-1.4},{"x":7.28,"y":-1.4},{"x":7.43,"y":-1.4},{"x":7.58,"y":-1.4},{"x":7.73,"y":-1.4},{"x":7.88,"y":-1.4},{"x":8.03,"y":-1.4},{"x":8.2,"y":-1.4},{"x":6.95,"y":-1.6},{"x":7.1,"y":-1.6},{"x":7.25,"y":-1.6},{"x":7.4,"y":-1.6},{"x":7.55,"y":-1.6},{"x":7.7,"y":-1.6},{"x":7.85,"y":-1.6},{"x":8,"y":-1.6},{"x":8.15,"y":-1.6},{"x":8.3,"y":-1.6},{"x":6.9,"y":-1.8},{"x":7.05,"y":-1.8},{"x":7.2,"y":-1.8},{"x":7.35,"y":-1.8},{"x":7.5,"y":-1.8},{"x":7.65,"y":-1.8},{"x":7.8,"y":-1.8},{"x":7.95,"y":-1.8},{"x":8.1,"y":-1.8},{"x":8.25,"y":-1.8},{"x":6.75,"y":-2},{"x":6.9,"y":-2},{"x":7.05,"y":-2},{"x":7.2,"y":-2},{"x":7.35,"y":-2},{"x":7.5,"y":-2},{"x":7.65,"y":-2},{"x":7.8,"y":-2},{"x":7.95,"y":-2},{"x":8.1,"y":-2},{"x":8.25,"y":-2},{"x":8.4,"y":-2},{"x":6.65,"y":-2.2},{"x":6.8,"y":-2.2},{"x":6.95,"y":-2.2},{"x":7.1,"y":-2.2},{"x":7.25,"y":-2.2},{"x":7.4,"y":-2.2},{"x":7.55,"y":-2.2},{"x":7.7,"y":-2.2},{"x":7.85,"y":-2.2},{"x":8,"y":-2.2},{"x":8.15,"y":-2.2},{"x":8.3,"y":-2.2},{"x":8.5,"y":-2.2},{"x":6.95,"y":-2.35},{"x":7.1,"y":-2.35},{"x":7.25,"y":-2.35},{"x":7.4,"y":-2.35},{"x":7.55,"y":-2.35},{"x":7.7,"y":-2.35},{"x":7.85,"y":-2.35},{"x":8,"y":-2.35},{"x":8.15,"y":-2.35},{"x":8.28,"y":-2.35},{"x":7.1,"y":-2.55},{"x":7.25,"y":-2.55},{"x":7.4,"y":-2.55},{"x":7.55,"y":-2.55},{"x":7.7,"y":-2.55},{"x":7.85,"y":-2.55},{"x":8,"y":-2.55},{"x":7.18,"y":-2.75},{"x":7.33,"y":-2.75},{"x":7.48,"y":-2.75},{"x":7.63,"y":-2.75},{"x":7.78,"y":-2.75},{"x":7.93,"y":-2.75},{"x":7.25,"y":-2.95},{"x":7.4,"y":-2.95},{"x":7.55,"y":-2.95},{"x":7.7,"y":-2.95},{"x":7.85,"y":-2.95},{"x":7.25,"y":-3.15},{"x":7.4,"y":-3.15},{"x":7.55,"y":-3.15},{"x":7.7,"y":-3.15},{"x":7.8,"y":-3.15},{"x":7.35,"y":-3.35},{"x":7.5,"y":-3.35},{"x":7.65,"y":-3.35},{"x":7.8,"y":-3.35},{"x":7.35,"y":-3.65},{"x":7.5,"y":-3.65},{"x":7.62,"y":-3.65},{"x":7.78,"y":-3.65},{"x":7.62,"y":-4},{"x":14.06,"y":0.75},{"x":14.18,"y":0.75},{"x":13.9,"y":0.65},{"x":14.05,"y":0.65},{"x":14.2,"y":0.65},{"x":14.32,"y":0.65},{"x":13.95,"y":0.5},{"x":14.1,"y":0.5},{"x":14.25,"y":0.5},{"x":14.38,"y":0.5},{"x":13.9,"y":0.3},{"x":14.05,"y":0.3},{"x":14.2,"y":0.3},{"x":14.35,"y":0.3},{"x":13.45,"y":0.1},{"x":13.85,"y":0.1},{"x":14,"y":0.1},{"x":14.15,"y":0.1},{"x":14.3,"y":0.1},{"x":14.45,"y":0.1},{"x":13.4,"y":-0.03},{"x":13.55,"y":-0.03},{"x":13.8,"y":-0.03},{"x":13.95,"y":-0.03},{"x":14.1,"y":-0.03},{"x":14.25,"y":-0.03},{"x":14.4,"y":-0.03},{"x":14.6,"y":-0.03},{"x":14.75,"y":-0.03},{"x":13.2,"y":-0.15},{"x":13.33,"y":-0.15},{"x":13.48,"y":-0.15},{"x":13.63,"y":-0.15},{"x":13.78,"y":-0.15},{"x":13.93,"y":-0.15},{"x":14.08,"y":-0.15},{"x":14.23,"y":-0.15},{"x":14.38,"y":-0.15},{"x":14.53,"y":-0.15},{"x":14.68,"y":-0.15},{"x":14.83,"y":-0.15},{"x":14.98,"y":-0.15},{"x":13.28,"y":-0.3},{"x":13.43,"y":-0.3},{"x":13.58,"y":-0.3},{"x":13.73,"y":-0.3},{"x":13.88,"y":-0.3},{"x":14.03,"y":-0.3},{"x":14.18,"y":-0.3},{"x":14.33,"y":-0.3},{"x":14.48,"y":-0.3},{"x":14.63,"y":-0.3},{"x":14.78,"y":-0.3},{"x":14.95,"y":-0.3},{"x":13.32,"y":-0.45},{"x":13.6,"y":-0.45},{"x":13.75,"y":-0.45},{"x":13.9,"y":-0.45},{"x":14.05,"y":-0.45},{"x":14.2,"y":-0.45},{"x":14.35,"y":-0.45},{"x":14.5,"y":-0.45},{"x":14.65,"y":-0.45},{"x":15,"y":-0.45},{"x":13.7,"y":-0.6},{"x":13.85,"y":-0.6},{"x":14,"y":-0.6},{"x":14.15,"y":-0.6},{"x":14.3,"y":-0.6},{"x":14.45,"y":-0.6},{"x":13.85,"y":-0.7},{"x":14,"y":-0.7},{"x":14.15,"y":-0.7},{"x":14.3,"y":-0.7},{"x":14.5,"y":-0.7},{"x":14,"y":-0.85},{"x":14.15,"y":-0.85},{"x":14.25,"y":-0.85},{"x":14.1,"y":-1},{"x":14.08,"y":-1.15},{"x":14.12,"y":-1.6},{"x":14.1,"y":-1.85}]},"mark":{"type":"point","filled":true,"shape":"circle","color":"#2040ff","opacity":1,"size":452}},
{"data":{"values":[{"t":"Nascent RNA-seq,","x":10.22,"y":8.77},{"t":"Rap1-regulated genes (n-141)","x":10.22,"y":7.4}]},"mark":{"type":"text","fontSize":71},"encoding":{"text":{"field":"t","type":"nominal"}}},
{"data":{"values":[{"t":"Rap1 dpl.","x":6.18,"y":-8.41},{"t":"Sth1 dpl.","x":12.58,"y":-8.24}]},"mark":{"type":"text","fontSize":71},"encoding":{"text":{"field":"t","type":"nominal"}}},
{"data":{"values":[{"t":"C","x":0.54,"y":9.32}]},"mark":{"type":"text","fontSize":84},"encoding":{"text":{"field":"t","type":"nominal"}}}
]},
{"encoding":{"x":{"field":"x","type":"quantitative","scale":{"domain":[-5.5,5.5],"range":[2049,3500],"nice":false,"zero":false},"axis":{"orient":"bottom","offset":-740,"values":[-5,-2.5,0,2.5,5],"labelExpr":"''+datum.value","domainWidth":6,"tickWidth":4,"tickSize":7,"labelFontSize":65,"labelPadding":5,"title":"Directionality Score","titleFontSize":61,"titleX":2806,"titleY":91}},"y":{"field":"y","type":"quantitative","scale":{"domain":[-3.88,78.6],"range":[1773,1433],"nice":false,"zero":false},"axis":{"orient":"left","offset":-2049,"values":[0,20,40,60],"labelExpr":"''+datum.value","domainWidth":6,"tickWidth":5,"tickSize":7,"labelFontSize":58,"labelPadding":5,"title":"nr genes","titleFontSize":56,"titleX":-147,"titleY":1590}}},
"layer":[
{"data":{"values":[{"x":-5,"y":0},{"x":-1,"y":0},{"x":-0.5,"y":0.2},{"x":0,"y":2},{"x":0.25,"y":6.8},{"x":0.5,"y":14.3},{"x":0.65,"y":17.7},{"x":0.8,"y":18.4},{"x":1.05,"y":18.6},{"x":1.25,"y":21.8},{"x":1.45,"y":25.6},{"x":1.75,"y":28.8},{"x":1.95,"y":36.9},{"x":2.15,"y":52.8},{"x":2.35,"y":66},{"x":2.55,"y":72.6},{"x":2.7,"y":75.4},{"x":2.8,"y":75},{"x":2.95,"y":66},{"x":3.2,"y":49},{"x":3.4,"y":36},{"x":3.65,"y":26.5},{"x":3.9,"y":12.4},{"x":4.1,"y":5.8},{"x":4.3,"y":2.4},{"x":4.5,"y":0.9},{"x":4.75,"y":0.2},{"x":5,"y":0}]},"mark":{"type":"area","interpolate":"monotone","fill":"#a5f57f"}},
{"data":{"values":[{"x":-5,"y":0},{"x":-1.5,"y":0.2},{"x":-1,"y":1.5},{"x":-0.5,"y":4},{"x":-0.3,"y":6.8},{"x":0,"y":16.2},{"x":0.25,"y":31.2},{"x":0.5,"y":39.7},{"x":0.65,"y":47},{"x":0.9,"y":63.2},{"x":1.05,"y":68.3},{"x":1.2,"y":67},{"x":1.5,"y":56.2},{"x":1.7,"y":50},{"x":2,"y":45.3},{"x":2.2,"y":40},{"x":2.4,"y":30.3},{"x":2.65,"y":16.2},{"x":2.8,"y":12.4},{"x":3,"y":10.5},{"x":3.25,"y":8.7},{"x":3.5,"y":4.5},{"x":3.75,"y":2},{"x":4,"y":0.9},{"x":4.3,"y":0.2},{"x":5,"y":0}]},"mark":{"type":"area","interpolate":"monotone","fill":"#a496f0"}},
{"data":{"values":[{"x":-5,"y":0},{"x":-1,"y":0},{"x":-0.5,"y":0.2},{"x":0,"y":2},{"x":0.25,"y":6.8},{"x":0.5,"y":14.3},{"x":0.65,"y":17.7},{"x":0.8,"y":18.4},{"x":1.05,"y":18.6},{"x":1.25,"y":21.8},{"x":1.45,"y":25.6},{"x":1.75,"y":28.8},{"x":1.95,"y":36.9},{"x":2.03,"y":44.5},{"x":2.2,"y":40},{"x":2.4,"y":30.3},{"x":2.65,"y":16.2},{"x":2.8,"y":12.4},{"x":3,"y":10.5},{"x":3.25,"y":8.7},{"x":3.5,"y":4.5},{"x":3.75,"y":2},{"x":4,"y":0.9},{"x":4.3,"y":0.2},{"x":5,"y":0}]},"mark":{"type":"area","interpolate":"monotone","fill":"#687ba8"}},
{"data":{"values":[{"x":-5,"y":0},{"x":-1,"y":0},{"x":-0.5,"y":0.2},{"x":0,"y":2},{"x":0.25,"y":6.8},{"x":0.5,"y":14.3},{"x":0.65,"y":17.7},{"x":0.8,"y":18.4},{"x":1.05,"y":18.6},{"x":1.25,"y":21.8},{"x":1.45,"y":25.6},{"x":1.75,"y":28.8},{"x":1.95,"y":36.9},{"x":2.15,"y":52.8},{"x":2.35,"y":66},{"x":2.55,"y":72.6},{"x":2.7,"y":75.4},{"x":2.8,"y":75},{"x":2.95,"y":66},{"x":3.2,"y":49},{"x":3.4,"y":36},{"x":3.65,"y":26.5},{"x":3.9,"y":12.4},{"x":4.1,"y":5.8},{"x":4.3,"y":2.4},{"x":4.5,"y":0.9},{"x":4.75,"y":0.2},{"x":5,"y":0}]},"mark":{"type":"area","interpolate":"monotone","fill":"transparent","stroke":"#111","strokeWidth":8.5,"strokeJoin":"round"}},
{"data":{"values":[{"x":-5,"y":0},{"x":-1.5,"y":0.2},{"x":-1,"y":1.5},{"x":-0.5,"y":4},{"x":-0.3,"y":6.8},{"x":0,"y":16.2},{"x":0.25,"y":31.2},{"x":0.5,"y":39.7},{"x":0.65,"y":47},{"x":0.9,"y":63.2},{"x":1.05,"y":68.3},{"x":1.2,"y":67},{"x":1.5,"y":56.2},{"x":1.7,"y":50},{"x":2,"y":45.3},{"x":2.2,"y":40},{"x":2.4,"y":30.3},{"x":2.65,"y":16.2},{"x":2.8,"y":12.4},{"x":3,"y":10.5},{"x":3.25,"y":8.7},{"x":3.5,"y":4.5},{"x":3.75,"y":2},{"x":4,"y":0.9},{"x":4.3,"y":0.2},{"x":5,"y":0}]},"mark":{"type":"area","interpolate":"monotone","fill":"transparent","stroke":"#111","strokeWidth":8.5,"strokeJoin":"round"}},
{"data":{"values":[{"x":-5.27,"x2":-4.77,"y":61.7,"y2":77.4}]},"mark":{"type":"rect","fill":"#90ee60","stroke":"#111","strokeWidth":7},"encoding":{"x2":{"field":"x2"},"y2":{"field":"y2"}}},
{"data":{"values":[{"x":-5.27,"x2":-4.77,"y":41,"y2":57.5}]},"mark":{"type":"rect","fill":"#b8aef8","stroke":"#111","strokeWidth":7},"encoding":{"x2":{"field":"x2"},"y2":{"field":"y2"}}},
{"data":{"values":[{"t":"control","x":-4.67,"y":70.6},{"t":"Rap1 depletion","x":-4.66,"y":48.5}]},"mark":{"type":"text","fontSize":78,"align":"left"},"encoding":{"text":{"field":"t","type":"nominal"}}},
{"data":{"values":[{"t":"D","x":-6.9,"y":98}]},"mark":{"type":"text","fontSize":84},"encoding":{"text":{"field":"t","type":"nominal"}}}
]},
{"encoding":{"x":{"field":"x","type":"quantitative","scale":{"domain":[-5.516,5.49],"range":[2041,3492],"nice":false,"zero":false},"axis":{"orient":"bottom","offset":-120,"values":[-5,-2.5,0,2.5,5],"labelExpr":"''+datum.value","domainWidth":6,"tickWidth":4,"tickSize":7,"labelFontSize":65,"labelPadding":5,"title":"Directionality Score","titleFontSize":61,"titleX":2798,"titleY":89}},"y":{"field":"y","type":"quantitative","scale":{"domain":[-3.57,72.5],"range":[2393,2052],"nice":false,"zero":false},"axis":{"orient":"left","offset":-2041,"values":[0,20,40,60],"labelExpr":"''+datum.value","domainWidth":6,"tickWidth":5,"tickSize":7,"labelFontSize":58,"labelPadding":5,"title":"nr genes","titleFontSize":56,"titleX":-139,"titleY":2197}}},
"layer":[
{"data":{"values":[{"x":-5,"y":0},{"x":-0.5,"y":0.2},{"x":-0.25,"y":0.5},{"x":0,"y":1.7},{"x":0.25,"y":7.3},{"x":0.5,"y":12.5},{"x":0.65,"y":14.2},{"x":0.8,"y":14.5},{"x":1,"y":12.1},{"x":1.15,"y":11.2},{"x":1.3,"y":15.9},{"x":1.6,"y":26.3},{"x":1.9,"y":33.2},{"x":2,"y":38.4},{"x":2.1,"y":45.3},{"x":2.25,"y":54},{"x":2.4,"y":61.7},{"x":2.55,"y":64.7},{"x":2.7,"y":65.2},{"x":2.85,"y":67.8},{"x":2.95,"y":69.2},{"x":3.05,"y":69},{"x":3.2,"y":64.3},{"x":3.5,"y":49.6},{"x":3.75,"y":34.9},{"x":4,"y":17.6},{"x":4.2,"y":5.5},{"x":4.4,"y":1.6},{"x":4.6,"y":0.4},{"x":5,"y":0}]},"mark":{"type":"area","interpolate":"monotone","fill":"#a5f57f"}},
{"data":{"values":[{"x":-5,"y":0},{"x":-1,"y":0.2},{"x":-0.5,"y":0.7},{"x":-0.2,"y":2.9},{"x":0,"y":5.2},{"x":0.25,"y":9.9},{"x":0.5,"y":12.8},{"x":0.75,"y":16.8},{"x":1,"y":24.6},{"x":1.2,"y":29.4},{"x":1.5,"y":35.8},{"x":1.75,"y":40.1},{"x":2,"y":45.3},{"x":2.2,"y":49.6},{"x":2.4,"y":56.5},{"x":2.6,"y":60.3},{"x":2.75,"y":60.9},{"x":2.9,"y":58.8},{"x":3.1,"y":52.6},{"x":3.35,"y":37.5},{"x":3.6,"y":22.8},{"x":3.85,"y":12.1},{"x":4.1,"y":4.7},{"x":4.3,"y":2},{"x":4.5,"y":0.7},{"x":4.75,"y":0.2},{"x":5,"y":0}]},"mark":{"type":"area","interpolate":"monotone","fill":"#a496f0"}},
{"data":{"values":[{"x":-5,"y":0},{"x":-0.5,"y":0.2},{"x":-0.25,"y":0.5},{"x":0,"y":1.7},{"x":0.25,"y":7.3},{"x":0.5,"y":12.5},{"x":0.65,"y":14.2},{"x":0.8,"y":14.5},{"x":1,"y":12.1},{"x":1.15,"y":11.2},{"x":1.3,"y":15.9},{"x":1.6,"y":26.3},{"x":1.9,"y":33.2},{"x":2,"y":38.4},{"x":2.1,"y":45.3},{"x":2.15,"y":48.5},{"x":2.2,"y":49.6},{"x":2.4,"y":56.5},{"x":2.6,"y":60.3},{"x":2.75,"y":60.9},{"x":2.9,"y":58.8},{"x":3.1,"y":52.6},{"x":3.35,"y":37.5},{"x":3.6,"y":22.8},{"x":3.85,"y":12.1},{"x":4.1,"y":4.7},{"x":4.3,"y":1.6},{"x":4.5,"y":0.7},{"x":4.75,"y":0.2},{"x":5,"y":0}]},"mark":{"type":"area","interpolate":"monotone","fill":"#687ba8"}},
{"data":{"values":[{"x":-5,"y":0},{"x":-0.5,"y":0.2},{"x":-0.25,"y":0.5},{"x":0,"y":1.7},{"x":0.25,"y":7.3},{"x":0.5,"y":12.5},{"x":0.65,"y":14.2},{"x":0.8,"y":14.5},{"x":1,"y":12.1},{"x":1.15,"y":11.2},{"x":1.3,"y":15.9},{"x":1.6,"y":26.3},{"x":1.9,"y":33.2},{"x":2,"y":38.4},{"x":2.1,"y":45.3},{"x":2.25,"y":54},{"x":2.4,"y":61.7},{"x":2.55,"y":64.7},{"x":2.7,"y":65.2},{"x":2.85,"y":67.8},{"x":2.95,"y":69.2},{"x":3.05,"y":69},{"x":3.2,"y":64.3},{"x":3.5,"y":49.6},{"x":3.75,"y":34.9},{"x":4,"y":17.6},{"x":4.2,"y":5.5},{"x":4.4,"y":1.6},{"x":4.6,"y":0.4},{"x":5,"y":0}]},"mark":{"type":"area","interpolate":"monotone","fill":"transparent","stroke":"#111","strokeWidth":8.5,"strokeJoin":"round"}},
{"data":{"values":[{"x":-5,"y":0},{"x":-1,"y":0.2},{"x":-0.5,"y":0.7},{"x":-0.2,"y":2.9},{"x":0,"y":5.2},{"x":0.25,"y":9.9},{"x":0.5,"y":12.8},{"x":0.75,"y":16.8},{"x":1,"y":24.6},{"x":1.2,"y":29.4},{"x":1.5,"y":35.8},{"x":1.75,"y":40.1},{"x":2,"y":45.3},{"x":2.2,"y":49.6},{"x":2.4,"y":56.5},{"x":2.6,"y":60.3},{"x":2.75,"y":60.9},{"x":2.9,"y":58.8},{"x":3.1,"y":52.6},{"x":3.35,"y":37.5},{"x":3.6,"y":22.8},{"x":3.85,"y":12.1},{"x":4.1,"y":4.7},{"x":4.3,"y":2},{"x":4.5,"y":0.7},{"x":4.75,"y":0.2},{"x":5,"y":0}]},"mark":{"type":"area","interpolate":"monotone","fill":"transparent","stroke":"#111","strokeWidth":8.5,"strokeJoin":"round"}},
{"data":{"values":[{"x":-5.31,"x2":-4.82,"y":56.3,"y2":70.8}]},"mark":{"type":"rect","fill":"#90ee60","stroke":"#111","strokeWidth":7},"encoding":{"x2":{"field":"x2"},"y2":{"field":"y2"}}},
{"data":{"values":[{"x":-5.31,"x2":-4.82,"y":34.8,"y2":49.6}]},"mark":{"type":"rect","fill":"#b8aef8","stroke":"#111","strokeWidth":7},"encoding":{"x2":{"field":"x2"},"y2":{"field":"y2"}}},
{"data":{"values":[{"t":"control","x":-4.74,"y":64.3},{"t":"Sth1 depletion","x":-4.65,"y":42.2}]},"mark":{"type":"text","fontSize":78,"align":"left"},"encoding":{"text":{"field":"t","type":"nominal"}}},
{"data":{"values":[{"t":"E","x":-6.87,"y":84.6}]},"mark":{"type":"text","fontSize":84},"encoding":{"text":{"field":"t","type":"nominal"}}}
]}
]}
